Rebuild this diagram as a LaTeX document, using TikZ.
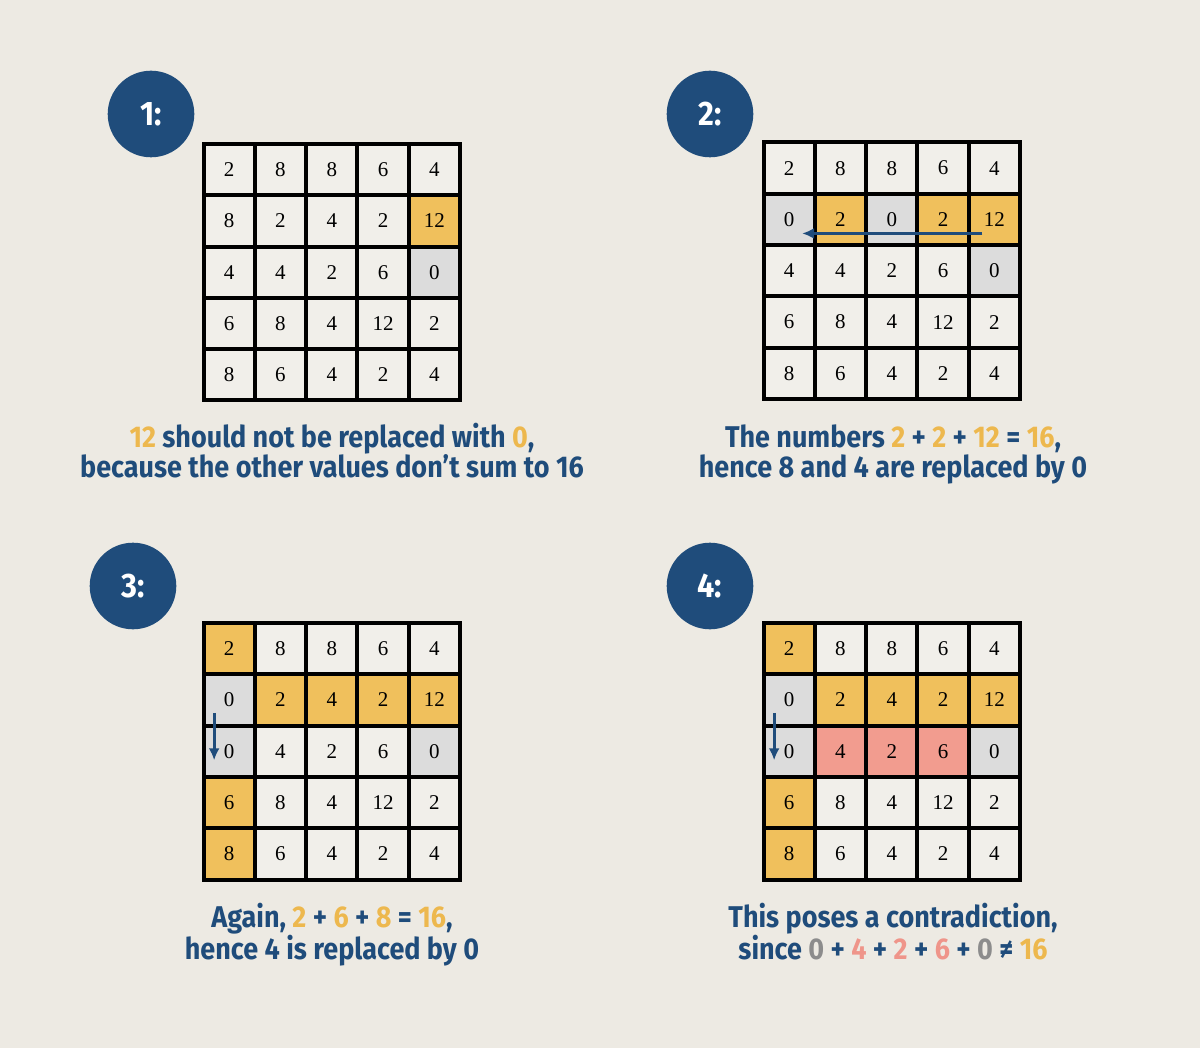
\documentclass[tikz,border=0pt]{standalone}
\usepackage{fontspec}
\usepackage{tikz}
\usetikzlibrary{arrows.meta}
\setmainfont{Liberation Serif}
\newfontfamily\capfont[FakeStretch=0.9]{Fira Sans}

\definecolor{bg}{HTML}{EDEAE3}
\definecolor{cellbg}{HTML}{F1EFEA}
\definecolor{navy}{HTML}{1F4C7B}
\definecolor{gold}{HTML}{F0C05C}
\definecolor{zero}{HTML}{DCDCDC}
\definecolor{rose}{HTML}{F29C8F}
\definecolor{goldtxt}{HTML}{EDB84E}
\definecolor{greytxt}{HTML}{8C8C8C}
\definecolor{rosetxt}{HTML}{EF958A}

\newcommand\hlg[1]{\textcolor{goldtxt}{#1}}
\newcommand\hlz[1]{\textcolor{greytxt}{#1}}
\newcommand\hlr[1]{\textcolor{rosetxt}{#1}}

\begin{document}
\begin{tikzpicture}[x=1pt,y=-1pt,>={Latex[length=12pt,width=11pt]},
  num cell/.style={rectangle,draw=black,line width=4pt,minimum size=51.3pt,
    inner sep=0pt,fill=cellbg,font=\fontsize{21}{21}\selectfont},
  pl/.style={fill=cellbg},
  hit/.style={fill=gold},
  nil/.style={fill=zero},
  bad/.style={fill=rose},
  badge/.style={circle,fill=navy,minimum size=86.6pt,inner sep=0pt,text=white,
    font=\capfont\bfseries\fontsize{34}{34}\selectfont},
  caption/.style={align=center,anchor=base,text=navy,
    font=\capfont\bfseries\fontsize{30}{30.5}\selectfont},
  flow/.style={->,line width=3pt,draw=navy}]

  \fill[bg] (0,0) rectangle (1200,1048);
  \useasboundingbox (0,0) rectangle (1200,1048);

  % step 1
  \node[badge] (s1) at (151,114) {1:};
  \foreach \row [count=\i] in {{2/pl,8/pl,8/pl,6/pl,4/pl},{8/pl,2/pl,4/pl,2/pl,12/hit},
      {4/pl,4/pl,2/pl,6/pl,0/nil},{6/pl,8/pl,4/pl,12/pl,2/pl},{8/pl,6/pl,4/pl,2/pl,4/pl}}
    \foreach \v/\s [count=\j] in \row
      \node[num cell,\s] (a\i\j) at ({203.5+51.3*(\j-.5)},{144+51.3*(\i-.5)}) {\v};
  \node[caption] (t1) at (332,478)
    {\hlg{12} should not be replaced with \hlg{0},\\because the other values don’t sum to 16};

  % step 2
  \node[badge] (s2) at (710,114) {2:};
  \foreach \row [count=\i] in {{2/pl,8/pl,8/pl,6/pl,4/pl},{0/nil,2/hit,0/nil,2/hit,12/hit},
      {4/pl,4/pl,2/pl,6/pl,0/nil},{6/pl,8/pl,4/pl,12/pl,2/pl},{8/pl,6/pl,4/pl,2/pl,4/pl}}
    \foreach \v/\s [count=\j] in \row
      \node[num cell,\s] (b\i\j) at ({763.5+51.3*(\j-.5)},{142.5+51.3*(\i-.5)}) {\v};
  \draw[flow] ([xshift=-12pt,yshift=-14pt]b25.center) -- ([xshift=13pt,yshift=-14pt]b21.center);
  \node[caption] (t2) at (893,478)
    {The numbers \hlg{2} + \hlg{2} + \hlg{12} = \hlg{16},\\hence 8 and 4 are replaced by 0};

  % step 3
  \node[badge] (s3) at (133,586) {3:};
  \foreach \row [count=\i] in {{2/hit,8/pl,8/pl,6/pl,4/pl},{0/nil,2/hit,4/hit,2/hit,12/hit},
      {0/nil,4/pl,2/pl,6/pl,0/nil},{6/hit,8/pl,4/pl,12/pl,2/pl},{8/hit,6/pl,4/pl,2/pl,4/pl}}
    \foreach \v/\s [count=\j] in \row
      \node[num cell,\s] (c\i\j) at ({203.5+51.3*(\j-.5)},{623+51.3*(\i-.5)}) {\v};
  \draw[flow] ([xshift=-15pt,yshift=-13pt]c21.center) -- ([xshift=-15pt,yshift=-9pt]c31.center);
  \node[caption] (t3) at (332,959)
    {Again, \hlg{2} + \hlg{6} + \hlg{8} = \hlg{16},\\hence 4 is replaced by 0};

  % step 4
  \node[badge] (s4) at (710,586) {4:};
  \foreach \row [count=\i] in {{2/hit,8/pl,8/pl,6/pl,4/pl},{0/nil,2/hit,4/hit,2/hit,12/hit},
      {0/nil,4/bad,2/bad,6/bad,0/nil},{6/hit,8/pl,4/pl,12/pl,2/pl},{8/hit,6/pl,4/pl,2/pl,4/pl}}
    \foreach \v/\s [count=\j] in \row
      \node[num cell,\s] (d\i\j) at ({763.5+51.3*(\j-.5)},{623+51.3*(\i-.5)}) {\v};
  \draw[flow] ([xshift=-15pt,yshift=-13pt]d21.center) -- ([xshift=-15pt,yshift=-9pt]d31.center);
  \node[caption] (t4) at (893,959)
    {This poses a contradiction,\\since \hlz{0} + \hlr{4} + \hlr{2} + \hlr{6} + \hlz{0} ≠ \hlg{16}};
\end{tikzpicture}
\end{document}
